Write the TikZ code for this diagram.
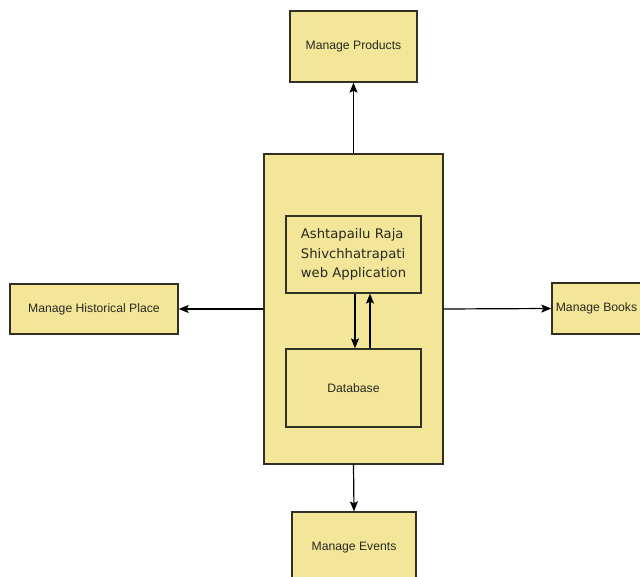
\documentclass[tikz,border=0pt]{standalone}
\usepackage{fontspec}
\setmainfont{Liberation Sans}
\newfontfamily\appfont{DejaVu Sans}
\usetikzlibrary{arrows.meta}
\definecolor{boxfill}{RGB}{243,230,153}
\definecolor{boxline}{RGB}{50,48,35}
\definecolor{txt}{RGB}{40,40,30}
\tikzset{
  box/.style={draw=boxline, fill=boxfill, line width=1.3pt, rectangle, inner sep=0pt,
    text=txt, font=\fontsize{12.2}{14}\selectfont},
  conn/.style={draw=black, line width=1.2pt, -{Stealth[length=10pt,width=8pt,inset=2pt]}},
}
\begin{document}
\begin{tikzpicture}[x=1pt,y=-1pt]
\useasboundingbox (0,0) rectangle (640,577);
\clip (0,0) rectangle (640,577);
\fill[white] (0,0) rectangle (640,577);
\node[box, minimum width=179pt, minimum height=310pt] (central) at (353.5,309) {};
\node[box, minimum width=135pt, minimum height=77pt, font=\appfont\fontsize{13.2}{19.5}\selectfont, align=left] (app) at (353.5,254.5) {Ashtapailu Raja\\Shivchhatrapati\\web Application};
\node[box, minimum width=135pt, minimum height=78pt] (db) at (353.5,388) {Database};
\node[box, minimum width=127pt, minimum height=71pt] (prod) at (353.5,46.5) {Manage Products};
\node[box, minimum width=168pt, minimum height=50pt] (hist) at (94,309) {Manage Historical Place};
\node[box, minimum width=89pt, minimum height=51pt] (books) at (596.5,308.5) {Manage Books};
\node[box, minimum width=124pt, minimum height=71pt] (events) at (354,547.5) {Manage Events};
\draw[conn] (central.north) -- (prod.south);
\draw[conn] (central.west) -- (hist.east);
\draw[conn] (central.east) -- (books.west);
\draw[conn] (central.south) -- (events.north);
\draw[conn] ([xshift=1.5pt]app.south) -- ([xshift=1.5pt]db.north);
\draw[conn] ([xshift=16.5pt]db.north) -- ([xshift=16.5pt]app.south);
\end{tikzpicture}
\end{document}
